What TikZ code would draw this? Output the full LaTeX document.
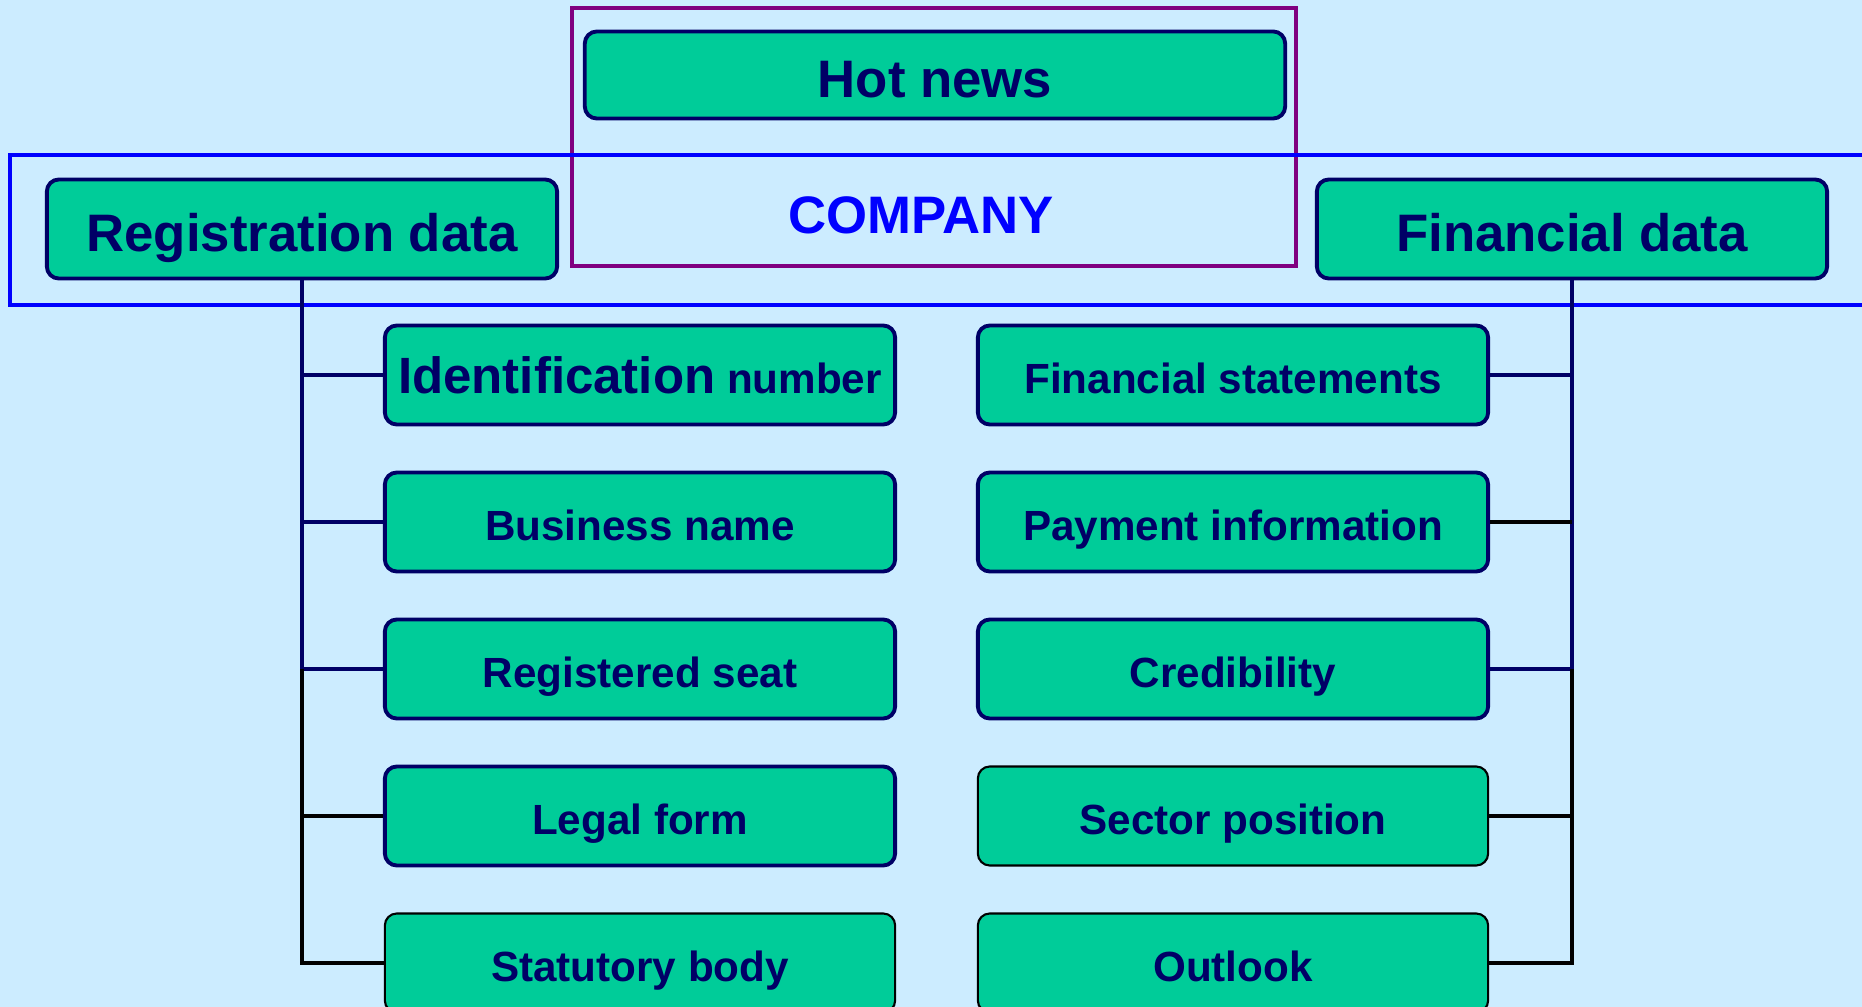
\documentclass[tikz,border=0pt]{standalone}
\usepackage{fontspec}
\setmainfont{Liberation Sans}
\definecolor{bgblue}{HTML}{CCECFF}
\definecolor{boxgreen}{HTML}{00CC99}
\definecolor{darknavy}{HTML}{000066}
\definecolor{framepurple}{HTML}{800080}
\begin{document}
\begin{tikzpicture}[x = 0.01cm, y = -0.01cm,
        item/.style = {draw=darknavy, line width=1.1pt, fill=boxgreen, rounded corners=0.12cm,
            minimum width=5.1cm, minimum height=0.99cm, inner xsep=1pt, text=darknavy,
            text height=11.6pt, text depth=1.2pt, font=\bfseries\fontsize{12}{14}\selectfont},
        thinitem/.style = {item, draw=black, line width=0.6pt},
        head/.style = {item, text height=15pt, text depth=2.2pt, font=\bfseries\fontsize{15}{18}\selectfont},
        navyline/.style = {darknavy, line width=1.2pt},
        blackline/.style = {black, line width=1.4pt}]
        \useasboundingbox (0,0) rectangle (1862,1007);
        \clip (0,0) rectangle (1862,1007);
        \fill [bgblue] (0,0) rectangle (1862,1007);
        \draw [framepurple, line width=1pt] (572,8) rectangle (1296,266);
        \draw [blue, line width=1.1pt] (10,155) rectangle (1900,305);
        \node [head, minimum width=7cm, minimum height=0.87cm] (hot) at (935,75) {Hot news};
        \node [text=blue, font=\bfseries\fontsize{15}{18}\selectfont] (company) at (921,215) {COMPANY};
        \node [head] (reg) at (302,229) {Registration data};
        \node [head] (fin) at (1572,229) {Financial data};
        \node [item] (ident) at (640,375) {{\fontsize{14.5}{17}\selectfont Identification} number};
        \node [item] (bname) at (640,522) {Business name};
        \node [item] (seat) at (640,669) {Registered seat};
        \node [item] (legal) at (640,816) {Legal form};
        \node [thinitem] (statut) at (640,963) {Statutory body};
        \node [item] (fstat) at (1233,375) {Financial statements};
        \node [item] (pay) at (1233,522) {Payment information};
        \node [item] (cred) at (1233,669) {Credibility};
        \node [thinitem] (sector) at (1233,816) {Sector position};
        \node [thinitem] (outlook) at (1233,963) {Outlook};
        \draw [navyline] (reg.south) |- (ident.west);
        \draw [navyline] (reg.south) |- (bname.west);
        \draw [navyline] (reg.south) |- (seat.west);
        \draw [blackline] (seat.west -| reg.south) |- (legal.west);
        \draw [blackline] (seat.west -| reg.south) |- (statut.west);
        \draw [navyline] (fin.south) |- (fstat.east);
        \draw [navyline] (fin.south) |- (cred.east);
        \draw [blackline] (pay.east) -- (pay.east -| fin.south);
        \draw [blackline] (cred.east -| fin.south) |- (sector.east);
        \draw [blackline] (cred.east -| fin.south) |- (outlook.east);
    \end{tikzpicture}
\end{document}
